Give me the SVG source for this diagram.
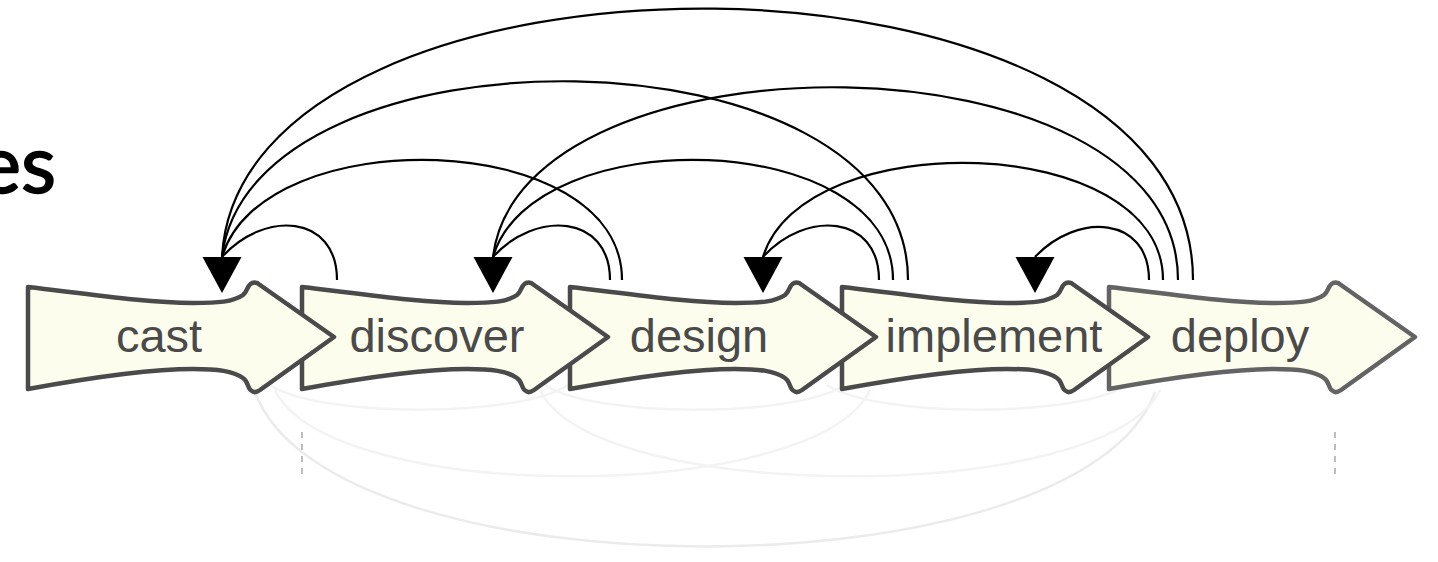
<svg xmlns="http://www.w3.org/2000/svg" width="1438" height="562" viewBox="0 0 1438 562">
  <defs>
    <style>
      .node { fill: #fdfdee; stroke: #4a4a4a; stroke-width: 4.5; stroke-linejoin: round; }
      .node.light { stroke: #636363; }
      .label { font-family: "Liberation Sans", Arial, sans-serif; font-size: 47px; fill: #4a4a4a; text-anchor: middle; }
      .title { font-family: Lato, "Open Sans", sans-serif; font-size: 81px; fill: #000; stroke: #000; stroke-width: 1.6; text-anchor: end; }
      .dep { fill: none; stroke: #000; stroke-width: 2.2; }
      .head { fill: #000; }
      .ghost { fill: none; stroke: #ebebeb; stroke-width: 2.5; }
      .ghost2 { fill: none; stroke: #f3f3f3; stroke-width: 2.5; }
      .guide { fill: none; stroke: #bdbdbd; stroke-width: 2; stroke-dasharray: 6 6; }
    </style>
    <path id="arrowShape" d="M 0,287 C 60,294 120,303 165,303 C 190,303 205,302 215,295 C 220,291 219,285 224,283 C 227,282 230,283 232,285 L 306,337 L 232,390 C 229,392 226,393 224,391 C 219,389 221,382 215,378 C 205,371 190,369 165,369 C 120,369 60,378 0,389 Z"/>
  </defs>

  <rect x="0" y="0" width="1438" height="562" fill="#ffffff"/>

  <text class="title" x="56" y="193">es</text>

  <g id="guides">
    <line class="guide" x1="302" y1="432" x2="302" y2="480"/>
    <line class="guide" x1="1335" y1="432" x2="1335" y2="480"/>
  </g>

  <g id="connectors">
    <!-- faint forward arcs below -->
    <path class="ghost" d="M 255,392 C 330,598 1080,598 1155,392"/>
    <path class="ghost2" d="M 275,390 C 330,505 815,505 870,390"/>
    <path class="ghost2" d="M 540,390 C 595,505 1105,505 1160,390"/>
    <path class="ghost2" d="M 270,385 C 320,418 518,418 568,385"/>
    <path class="ghost2" d="M 545,385 C 595,418 795,418 845,385"/>
    <path class="ghost2" d="M 827,385 C 877,418 1077,418 1127,385"/>

    <!-- backward dependency arcs above -->
    <path class="dep" d="M 337,280 C 337,214 264,210 222,257"/>
    <path class="dep" d="M 622,280 C 622,128 262,120 222,257"/>
    <path class="dep" d="M 908,280 C 908,20 250,18 222,257"/>
    <path class="dep" d="M 1193,280 C 1193,-78 240,-78 222,257"/>

    <path class="dep" d="M 610,280 C 610,214 535,210 493,257"/>
    <path class="dep" d="M 893,280 C 893,128 533,120 493,257"/>
    <path class="dep" d="M 1178,280 C 1178,28 520,26 493,257"/>

    <path class="dep" d="M 879,280 C 879,214 805,210 763,257"/>
    <path class="dep" d="M 1163,280 C 1163,132 803,124 763,257"/>

    <path class="dep" d="M 1149,280 C 1149,216 1077,212 1035,257"/>

    <polygon class="head" points="202.5,257 241.5,257 222,293"/>
    <polygon class="head" points="473.5,257 512.5,257 493,293"/>
    <polygon class="head" points="743.5,257 782.5,257 763,293"/>
    <polygon class="head" points="1015.5,257 1054.5,257 1035,293"/>
  </g>

  <g id="deploy">
    <use href="#arrowShape" class="node light" transform="translate(1109,0)"/>
    <text class="label" x="1240" y="352">deploy</text>
  </g>
  <g id="implement">
    <use href="#arrowShape" class="node" transform="translate(842,0)"/>
    <text class="label" x="994" y="352">implement</text>
  </g>
  <g id="design">
    <use href="#arrowShape" class="node" transform="translate(570,0)"/>
    <text class="label" x="699" y="352">design</text>
  </g>
  <g id="discover">
    <use href="#arrowShape" class="node" transform="translate(302,0)"/>
    <text class="label" x="437" y="352">discover</text>
  </g>
  <g id="cast">
    <use href="#arrowShape" class="node" transform="translate(28,0)"/>
    <text class="label" x="159" y="352">cast</text>
  </g>
</svg>
